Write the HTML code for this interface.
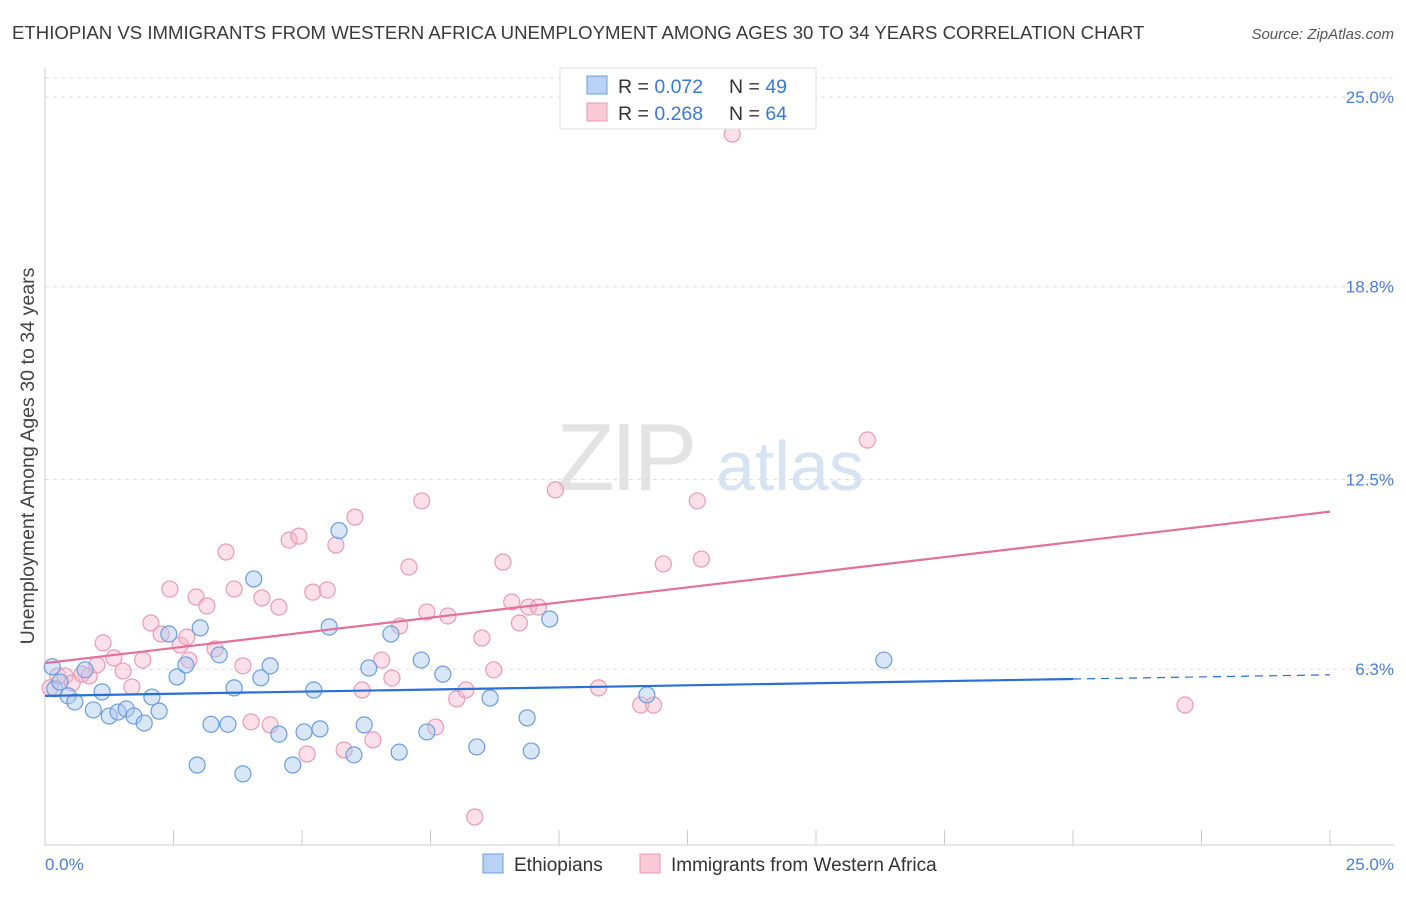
<!DOCTYPE html>
<html><head><meta charset="utf-8"><style>
body{margin:0;background:#fff;font-family:"Liberation Sans",sans-serif;}
svg text{font-family:"Liberation Sans",sans-serif;}
</style></head><body>
<svg id="chart" width="1406" height="892" viewBox="0 0 1406 892" xmlns="http://www.w3.org/2000/svg">
<text x="12" y="39" font-size="18.6" fill="#3a3a3a">ETHIOPIAN VS IMMIGRANTS FROM WESTERN AFRICA UNEMPLOYMENT AMONG AGES 30 TO 34 YEARS CORRELATION CHART</text>
<text x="1394" y="39" font-size="15" fill="#555" text-anchor="end" font-style="italic">Source: ZipAtlas.com</text>
<g>
<text x="556" y="490" font-size="96" fill="#e3e3e3" font-family="Liberation Serif" letter-spacing="-4">ZIP</text>
<text x="716" y="490" font-size="70" fill="#d6e3f3">atlas</text>
</g>
<g id="grid"></g>
<line x1="45" y1="845" x2="1394" y2="845" stroke="#ccc"/>
<line x1="45" y1="68" x2="45" y2="845" stroke="#ccc"/>
<text transform="translate(34,456) rotate(-90)" font-size="19.6" fill="#444" text-anchor="middle">Unemployment Among Ages 30 to 34 years</text>
<text x="45" y="870" font-size="17" fill="#4a7fd4">0.0%</text>
<text x="1394" y="870" font-size="17" fill="#4a7fd4" text-anchor="end">25.0%</text>
<g id="points"></g>
<g id="trends"></g>
<g>
<rect x="560" y="68" width="256" height="61" fill="#fff" stroke="#ddd"/>
<rect x="587" y="76" width="20" height="18" fill="#b9d2f4" stroke="#6a9de0"/>
<text x="618" y="93" font-size="19.5" fill="#333">R = <tspan fill="#3c78d8">0.072</tspan></text>
<text x="729" y="93" font-size="19.5" fill="#333">N = <tspan fill="#3c78d8">49</tspan></text>
<rect x="587" y="103" width="20" height="18" fill="#f9c9d8" stroke="#e899b3"/>
<text x="618" y="120" font-size="19.5" fill="#333">R = <tspan fill="#3c78d8">0.268</tspan></text>
<text x="729" y="120" font-size="19.5" fill="#333">N = <tspan fill="#3c78d8">64</tspan></text>
</g>
<g>
<rect x="483" y="854" width="20" height="19" fill="#b9d2f4" stroke="#6a9de0"/>
<text x="514" y="871" font-size="19" fill="#333">Ethiopians</text>
<rect x="640" y="854" width="20" height="19" fill="#f9c9d8" stroke="#e899b3"/>
<text x="671" y="871" font-size="19" fill="#333">Immigrants from Western Africa</text>
</g>
</svg>
<script>
const yTicks=[6.3,12.5,18.8,25.0];
const xTickVals=[0,2.5,5,7.5,10,12.5,15,17.5,20,22.5,25];
const blueX=[0.14,0.19,0.29,0.45,0.58,0.78,0.94,1.11,1.25,1.42,1.58,1.73,1.93,2.08,2.22,2.41,2.57,2.74,2.96,3.02,3.23,3.39,3.56,3.68,3.85,4.06,4.2,4.38,4.55,4.82,5.04,5.23,5.35,5.53,5.72,6.01,6.21,6.3,6.73,6.89,7.32,7.43,7.74,8.4,8.66,9.38,9.46,9.82,11.71,16.32];
const blueY=[6.38,5.66,5.88,5.43,5.23,6.28,4.97,5.56,4.77,4.9,5.0,4.77,4.54,5.39,4.93,7.45,6.05,6.44,3.17,7.65,4.5,6.77,4.5,5.69,2.88,9.25,6.02,6.41,4.18,3.17,4.25,5.62,4.35,7.68,10.83,3.5,4.48,6.34,7.45,3.59,6.6,4.25,6.14,3.76,5.36,4.71,3.63,7.94,5.46,6.6];
const pinkX=[0.1,0.25,0.39,0.53,0.72,0.86,1.01,1.13,1.34,1.52,1.69,1.9,2.06,2.26,2.43,2.63,2.76,2.8,2.94,3.15,3.31,3.52,3.68,3.85,4.01,4.22,4.38,4.55,4.75,4.94,5.1,5.21,5.49,5.66,5.82,6.03,6.17,6.38,6.55,6.75,6.9,7.08,7.33,7.43,7.6,7.84,8.01,8.19,8.36,8.5,8.73,8.91,9.08,9.23,9.41,9.6,9.93,10.77,11.59,11.84,12.03,12.69,12.77,13.37,16.0,22.18];
const pinkY=[5.69,6.08,6.08,5.85,6.14,6.08,6.44,7.16,6.67,6.24,5.72,6.6,7.81,7.45,8.92,7.09,7.35,6.6,8.66,8.37,6.96,10.13,8.92,6.41,4.58,8.63,4.48,8.33,10.52,10.65,3.53,8.82,8.89,10.36,3.66,11.27,5.62,3.99,6.6,6.01,7.71,9.64,11.8,8.17,4.41,8.04,5.33,5.62,1.47,7.32,6.28,9.8,8.5,7.81,8.33,8.33,12.16,5.69,5.13,5.13,9.74,11.8,9.9,23.79,13.79,5.13];
const blueTrend=[5.43,5.98];
const pinkTrend=[6.5,11.45];
const NS='http://www.w3.org/2000/svg';
const X=v=>45+v/25*1285;
const Y=v=>862-v/25*765;
function mk(tag,attrs,parent){const e=document.createElementNS(NS,tag);for(const k in attrs)e.setAttribute(k,attrs[k]);parent.appendChild(e);return e;}
const grid=document.getElementById('grid');
yTicks.forEach(t=>{
 const l=mk('line',{x1:45,x2:1394,y1:Y(t),y2:Y(t),stroke:'#ddd','stroke-dasharray':'4,4'},grid);
 
 
 const tx=mk('text',{x:1394,y:Y(t)+6,'font-size':17,fill:'#4a7fd4','text-anchor':'end'},grid);
 tx.textContent=t.toFixed(1)+'%';
 
 
});
const topg=mk('line',{x1:45,x2:1394,y1:78,y2:78,stroke:'#ddd','stroke-dasharray':'4,4'},grid);


xTickVals.forEach(t=>{
 const l=mk('line',{x1:X(t),x2:X(t),y1:830,y2:845,stroke:'#ccc'},grid);
 
 
});
const pts=document.getElementById('points');
pinkX.forEach((v,i)=>{
 const c=mk('circle',{cx:X(v),cy:Y(pinkY[i]),r:8,fill:'rgba(247,186,206,0.45)',stroke:'#ea9ab6','stroke-width':1.2},pts);
 
 
});
blueX.forEach((v,i)=>{
 const c=mk('circle',{cx:X(v),cy:Y(blueY[i]),r:8,fill:'rgba(170,200,240,0.45)',stroke:'#6a9de0','stroke-width':1.2},pts);
 
 
});
const tr=document.getElementById('trends');
const bEnd=blueTrend[0]+(blueTrend[1]-blueTrend[0])/20*25;
const b1=mk('line',{x1:X(0),y1:Y(blueTrend[0]),x2:X(20),y2:Y(blueTrend[1]),stroke:'#2a6fd6','stroke-width':2.2},tr);


const b2=mk('line',{x1:X(20),y1:Y(blueTrend[1]),x2:X(25),y2:Y(bEnd),stroke:'#2a6fd6','stroke-width':1.2,'stroke-dasharray':'8,6'},tr);


const p1=mk('line',{x1:X(0),y1:Y(pinkTrend[0]),x2:X(25),y2:Y(pinkTrend[1]),stroke:'#e4709a','stroke-width':2.2},tr);


</script>
</body></html>
